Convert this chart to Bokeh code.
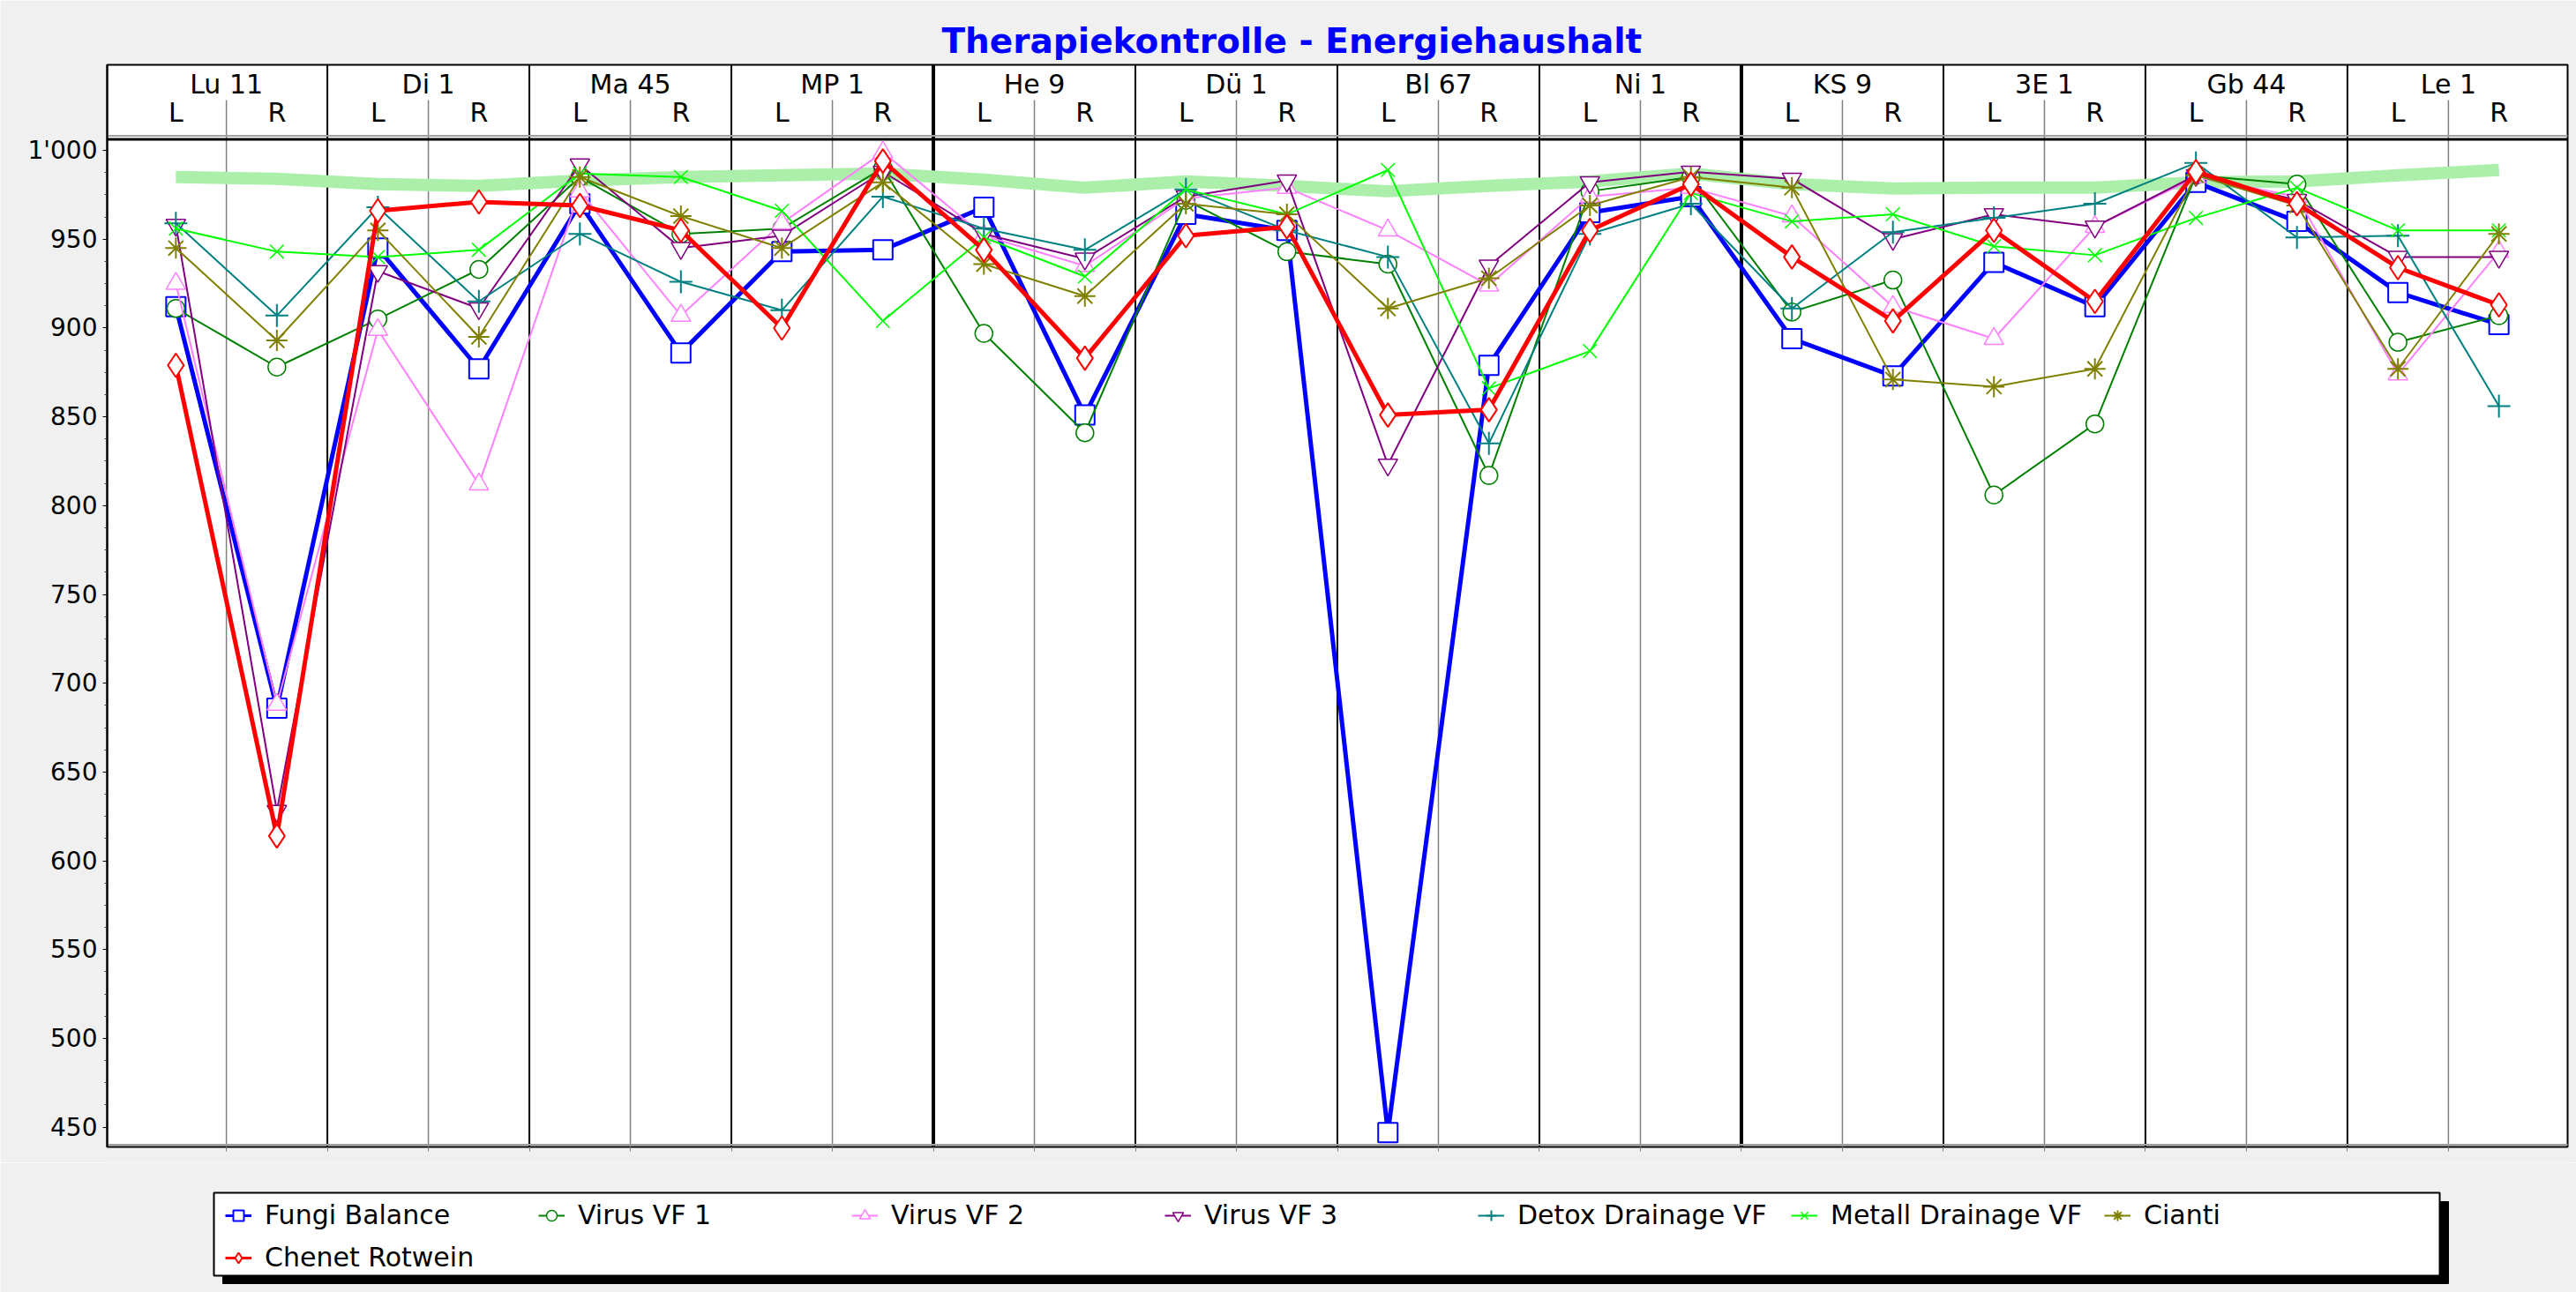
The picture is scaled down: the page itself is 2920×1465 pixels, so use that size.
from bokeh.plotting import figure
from bokeh.layouts import column
from bokeh.models import Range1d, FixedTicker, Legend, LegendItem
from bokeh.core.properties import value
from bokeh.embed import file_html
from bokeh.resources import INLINE

# ---------------- data ----------------
groups = ["Lu 11", "Di 1", "Ma 45", "MP 1", "He 9", "Dü 1", "Bl 67", "Ni 1", "KS 9", "3E 1", "Gb 44", "Le 1"]
sides = ["L", "R"]
y_ticks = [450, 500, 550, 600, 650, 700, 750, 800, 850, 900, 950, 1000]
y_tick_overrides = {1000: "1'000"}

fungi_balance = [912, 686, 945, 877, 970, 886, 943, 944, 968, 851, 964, 955,
                 447, 879, 965, 974, 894, 873, 937, 912, 982, 960, 920, 902]
virus_vf_1 = [911, 878, 905, 933, 985, 953, 956, 990, 897, 841, 972, 943,
              936, 817, 977, 985, 909, 927, 806, 846, 986, 981, 892, 907]
virus_vf_2 = [925, 688, 899, 812, 977, 907, 959, 999, 952, 935, 973, 979,
              955, 924, 974, 979, 963, 912, 894, 957, 985, 974, 874, 943]
virus_vf_3 = [958, 628, 932, 911, 992, 945, 952, 988, 953, 939, 974, 983,
              823, 935, 982, 988, 984, 950, 964, 957, 986, 972, 940, 940]
detox_drainage_vf = [959, 907, 968, 915, 953, 926, 910, 974, 956, 944, 978, 955,
                     940, 835, 953, 970, 911, 954, 962, 970, 993, 951, 952, 856]
metall_drainage_vf = [956, 943, 940, 944, 987, 985, 966, 904, 951, 929, 978, 964,
                      989, 866, 887, 976, 960, 964, 946, 941, 962, 979, 955, 955]
cianti = [945, 893, 955, 895, 985, 963, 945, 982, 936, 918, 970, 964,
          911, 928, 969, 985, 979, 871, 867, 877, 986, 969, 877, 953]
chenet_rotwein = [879, 614, 966, 971, 969, 955, 900, 994, 944, 883, 952, 957,
                  851, 854, 955, 981, 940, 904, 955, 915, 988, 970, 934, 913]
reference_band = [985, 984, 981, 980, 983, 985, 986, 987, 983.5, 979, 982.5, 980,
                  977, 980, 982.5, 987, 981, 978.5, 979, 979, 982, 982.5, 986, 989]

series = [
    ("Fungi Balance", fungi_balance, "#0000FF", "square", 22, 5, 2),
    ("Virus VF 1", virus_vf_1, "#008000", "circle", 20, 2, 1.5),
    ("Virus VF 2", virus_vf_2, "#FF80FF", "triangle", 22, 2, 1.5),
    ("Virus VF 3", virus_vf_3, "#800080", "inverted_triangle", 22, 2, 1.5),
    ("Detox Drainage VF", detox_drainage_vf, "#008080", "cross", 26, 2, 2),
    ("Metall Drainage VF", metall_drainage_vf, "#00FF00", "x", 22, 2, 1.5),
    ("Cianti", cianti, "#808000", "asterisk", 24, 2, 2),
    ("Chenet Rotwein", chenet_rotwein, "#FF0000", "diamond", 27, 5, 2),
]

FONT = "DejaVu Sans"
BG = "#F0F0F0"
n_groups = len(groups)
xs = [2 * g + 0.5 + s for g in range(n_groups) for s in range(len(sides))]

FRAME_L, FRAME_R = 121, 2910

# ---------------- main chart ----------------
Y0, Y1 = 438.9, 1048.2
p = figure(width=2920, height=1318,
           x_range=Range1d(-0.18, 2 * n_groups + 0.18), y_range=Range1d(Y0, Y1),
           output_backend="svg", toolbar_location=None,
           min_border_left=FRAME_L, min_border_right=2920 - FRAME_R, min_border_top=73, min_border_bottom=18,
           background_fill_color="white", border_fill_color=BG)
p.xgrid.visible = False
p.ygrid.visible = False
p.outline_line_color = "black"
p.outline_line_width = 2

# header / dividers
div_x = list(range(2, 2 * n_groups, 2))
div_w = [4 if x in (8, 16) else 2 for x in div_x]
p.segment(x0=div_x, x1=div_x, y0=[Y0] * len(div_x), y1=[Y1] * len(div_x),
          line_color="black", line_width=div_w)
lr_x = list(range(1, 2 * n_groups, 2))
p.segment(x0=lr_x, x1=lr_x, y0=[Y0] * len(lr_x), y1=[1028.3] * len(lr_x),
          line_color="#808080", line_width=1.5)
p.segment(x0=[-1], x1=[2 * n_groups + 1], y0=[1008.2], y1=[1008.2], line_color="#A0A0A0", line_width=2)
p.segment(x0=[-1], x1=[2 * n_groups + 1], y0=[1006.3], y1=[1006.3], line_color="black", line_width=3)
p.segment(x0=[-1], x1=[2 * n_groups + 1], y0=[Y0 + 1.2], y1=[Y0 + 1.2], line_color="#A0A0A0", line_width=2)

p.text(x=[2 * g + 1 for g in range(n_groups)], y=[1037.5] * n_groups, text=groups,
       text_font=value(FONT), text_font_size="30px", text_align="center",
       text_baseline="middle", text_color="black")
p.text(x=xs, y=[1021.5] * len(xs), text=[sides[i % 2] for i in range(len(xs))],
       text_font=value(FONT), text_font_size="30px", text_align="center",
       text_baseline="middle", text_color="black")

# data lines
p.line(xs, reference_band, line_color="#ABEFAB", line_width=14)
for name, vals, color, marker, size, lw, mlw in series:
    p.line(xs, vals, line_color=color, line_width=lw)
    p.scatter(xs, vals, marker=marker, size=size, line_color=color,
              fill_color="white", line_width=mlw)

# axes
minor = [450 + 12.5 * k for k in range(0, 45) if (12.5 * k) % 50 != 0]
p.yaxis.ticker = FixedTicker(ticks=y_ticks, minor_ticks=minor)
p.yaxis.major_label_overrides = y_tick_overrides
p.yaxis.axis_line_color = "black"
p.yaxis.axis_line_width = 2
p.yaxis.major_tick_out = 5
p.yaxis.major_tick_in = 0
p.yaxis.minor_tick_out = 3
p.yaxis.minor_tick_in = 0
p.yaxis.major_tick_line_color = "black"
p.yaxis.minor_tick_line_color = "#404040"
p.yaxis.major_label_text_font = FONT
p.yaxis.major_label_text_font_size = "28px"
p.yaxis.major_label_text_color = "black"
p.yaxis.major_label_standoff = 6

p.xaxis.ticker = FixedTicker(ticks=list(range(1, 2 * n_groups)), minor_ticks=[])
p.xaxis.axis_line_color = None
p.xaxis.major_tick_line_color = "#808080"
p.xaxis.major_tick_out = 5
p.xaxis.major_tick_in = 0
p.xaxis.major_label_text_alpha = 0
p.xaxis.major_label_text_font_size = "1px"

# title
p.title.text = "Therapiekontrolle - Energiehaushalt"
p.title.align = "left"
p.title.offset = 946
p.title.text_font = FONT
p.title.text_font_style = "bold"
p.title.text_font_size = "39px"
p.title.text_color = "#0000FF"
p.title.standoff = 10

# ---------------- legend strip ----------------
LH = 147
pl = figure(width=2920, height=LH, x_range=Range1d(FRAME_L, FRAME_R), y_range=Range1d(LH, 0),
            output_backend="svg", toolbar_location=None,
            min_border_left=FRAME_L, min_border_right=2920 - FRAME_R, min_border_top=0, min_border_bottom=0,
            x_axis_location=None, y_axis_location=None,
            background_fill_color=BG, border_fill_color=BG, outline_line_color=None)
pl.xgrid.visible = False
pl.ygrid.visible = False
# shadow and box (x = page x, y = page y minus 1318)
pl.quad(left=[252], right=[2775], top=[44], bottom=[137], fill_color="black", line_color="black")
pl.quad(left=[242], right=[2765], top=[34], bottom=[128], fill_color="white",
        line_color="black", line_width=2)

items = []
for name, vals, color, marker, size, lw, mlw in series:
    r1 = pl.line([-50, -40], [-50, -50], line_color=color, line_width=min(lw, 3))
    r2 = pl.scatter([-45], [-50], marker=marker, size=size, line_color=color,
                    fill_color="white", line_width=mlw)
    items.append(LegendItem(label=name, renderers=[r1, r2]))

legend = Legend(items=items, location=(255 - FRAME_L, 22), orientation="horizontal", ncols=7,
                glyph_width=30, glyph_height=32, label_standoff=15, label_width=297,
                spacing=13, padding=0, margin=0,
                label_text_font=FONT, label_text_font_size="30px", label_text_color="black",
                border_line_color=None, background_fill_alpha=0.0)
pl.add_layout(legend, "center")

open("out.html", "w").write(file_html(column(p, pl, spacing=0), INLINE))
